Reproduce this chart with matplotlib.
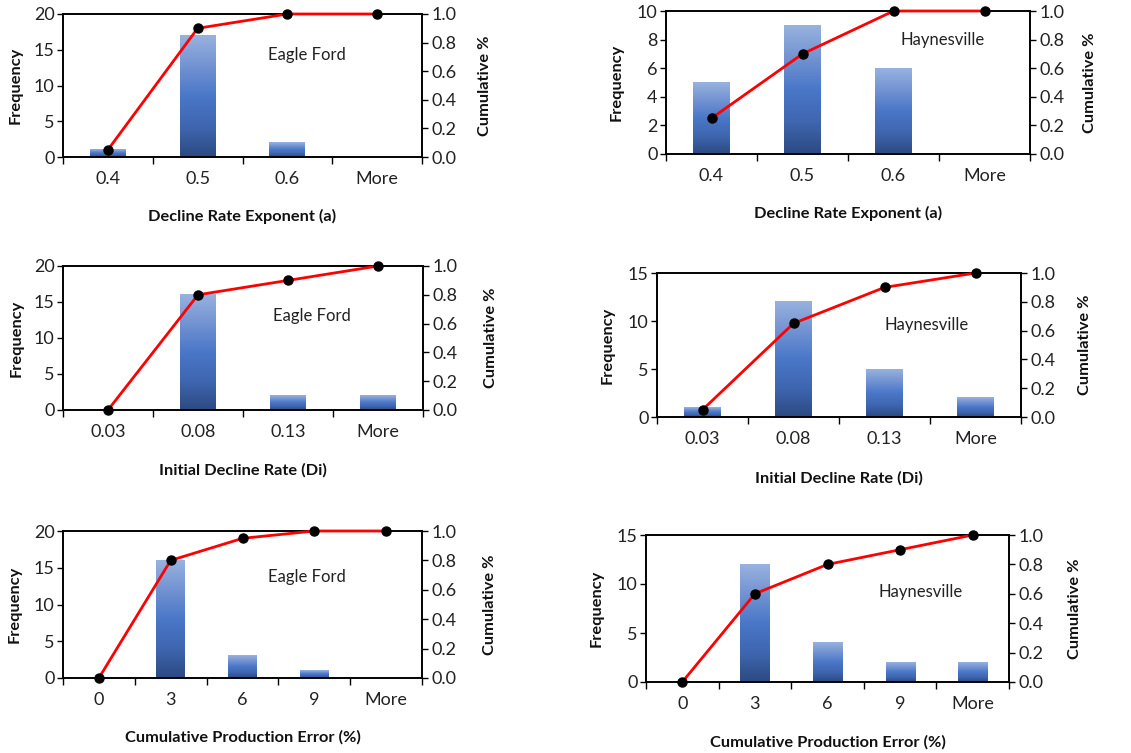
import numpy as np
import matplotlib
matplotlib.use("Agg")
import matplotlib.pyplot as plt
from matplotlib.colors import LinearSegmentedColormap

plt.rcParams['font.family'] = ['Lato', 'DejaVu Sans']

# ---------------- data ----------------
cats_a = ["0.4", "0.5", "0.6", "More"]
cats_di = ["0.03", "0.08", "0.13", "More"]
cats_err = ["0", "3", "6", "9", "More"]

ef_a_freq = [1, 17, 2, 0]
ef_a_cum = [0.05, 0.90, 1.00, 1.00]
hv_a_freq = [5, 9, 6, 0]
hv_a_cum = [0.25, 0.70, 1.00, 1.00]

ef_di_freq = [0, 16, 2, 2]
ef_di_cum = [0.00, 0.80, 0.90, 1.00]
hv_di_freq = [1, 12, 5, 2]
hv_di_cum = [0.05, 0.65, 0.90, 1.00]

ef_err_freq = [0, 16, 3, 1, 0]
ef_err_cum = [0.00, 0.80, 0.95, 1.00, 1.00]
hv_err_freq = [0, 12, 4, 2, 2]
hv_err_cum = [0.00, 0.60, 0.80, 0.90, 1.00]

xlabels = ["Decline Rate Exponent (a)", "Initial Decline Rate (Di)",
           "Cumulative Production Error (%)"]

W, H = 1131, 753
fig = plt.figure(figsize=(W / 100, H / 100), dpi=100)

grad = LinearSegmentedColormap.from_list(
    "g", ["#2c4a82", "#3f66b0", "#4a77c8", "#7393d2", "#98b2df"])


def px_rect(l, r, t, b):
    return [l / W, (H - b) / H, (r - l) / W, (b - t) / H]


panels = [
    # rect(px), cats, freq, cum, ymax, ystep, label, label pos, xlabel,
    # left label x(px), right label x(px), xlabel y(px)
    (px_rect(63, 422, 14, 157), cats_a, ef_a_freq, ef_a_cum, 20, 5,
     "Eagle Ford", (0.68, 0.71), xlabels[0], 16, 485, 216),
    (px_rect(666, 1030, 11, 154), cats_a, hv_a_freq, hv_a_cum, 10, 2,
     "Haynesville", (0.76, 0.80), xlabels[0], 617, 1090, 213),
    (px_rect(63, 423, 266, 410), cats_di, ef_di_freq, ef_di_cum, 20, 5,
     "Eagle Ford", (0.69, 0.65), xlabels[1], 17, 491, 470),
    (px_rect(657, 1021, 273, 417), cats_di, hv_di_freq, hv_di_cum, 15, 5,
     "Haynesville", (0.74, 0.64), xlabels[1], 608, 1085, 478),
    (px_rect(63, 422, 531, 678), cats_err, ef_err_freq, ef_err_cum, 20, 5,
     "Eagle Ford", (0.68, 0.69), xlabels[2], 15, 490, 737),
    (px_rect(646, 1009, 535, 682), cats_err, hv_err_freq, hv_err_cum, 15, 5,
     "Haynesville", (0.757, 0.61), xlabels[2], 597, 1075, 742),
]

TICK_FS = 13
LAB_FS = 11.8

for (rect, cats, freq, cum, ymax, ystep, name, npos, xlab,
     lx, rx, xly) in panels:
    ax = fig.add_axes(rect)
    n = len(cats)
    x = np.arange(n)
    bars = ax.bar(x, freq, width=0.4, color="none", edgecolor="none")
    gimg = np.linspace(0, 1, 256).reshape(-1, 1)
    for p in bars.patches:
        bx, by = p.get_x(), p.get_y()
        bw, bh = p.get_width(), p.get_height()
        if bh <= 0:
            continue
        ax.imshow(gimg, extent=[bx, bx + bw, by, by + bh], origin="lower",
                  aspect="auto", cmap=grad, zorder=1, interpolation="bilinear")
    ax.set_xlim(-0.5, n - 0.5)
    ax.set_ylim(0, ymax)
    ax.set_yticks(np.arange(0, ymax + 0.01, ystep))
    ax.set_xticks(x)
    ax.set_xticklabels(cats)
    ax.set_xticks(np.arange(-0.5, n, 1.0), minor=True)
    ax.tick_params(axis="x", which="major", length=0, pad=10,
                   labelsize=TICK_FS, colors="#222222")
    ax.tick_params(axis="x", which="minor", length=5, width=1,
                   direction="out", color="black")
    ax.tick_params(axis="y", length=4, width=1, direction="out", pad=2,
                   labelsize=TICK_FS, colors="#222222")
    ax.tick_params(axis="y", color="black")
    for s in ax.spines.values():
        s.set_color("black")
        s.set_linewidth(1.2)

    ax2 = ax.twinx()
    ax2.plot(x, cum, color="#ff0000", lw=2, marker="o", markersize=6.5,
             markerfacecolor="black", markeredgecolor="black", zorder=3,
             clip_on=False)
    ax2.set_ylim(0, 1.0)
    ax2.set_yticks(np.arange(0, 1.01, 0.2))
    ax2.set_yticklabels([f"{v:.1f}" for v in np.arange(0, 1.01, 0.2)])
    ax2.tick_params(axis="y", length=4, width=1, direction="out", pad=3,
                    labelsize=TICK_FS, colors="#222222")
    ax2.tick_params(axis="y", color="black")
    for s in ax2.spines.values():
        s.set_color("black")
        s.set_linewidth(1.2)

    ymid = (1 - rect[1] - rect[3] / 2) * H
    xmid = (rect[0] + rect[2] / 2) * W
    fig.text(lx / W, 1 - ymid / H, "Frequency", rotation=90, ha="center",
             va="center", fontsize=LAB_FS, fontweight="bold", color="#111111")
    fig.text(rx / W, 1 - ymid / H, "Cumulative %", rotation=90, ha="center",
             va="center", fontsize=LAB_FS, fontweight="bold", color="#111111")
    fig.text(xmid / W, 1 - xly / H, xlab, ha="center", va="center",
             fontsize=LAB_FS, fontweight="bold", color="#111111")
    ax2.text(npos[0], npos[1], name, transform=ax.transAxes, ha="center",
             va="center", fontsize=12, color="#222222")

fig.savefig("out.png", dpi=100)
